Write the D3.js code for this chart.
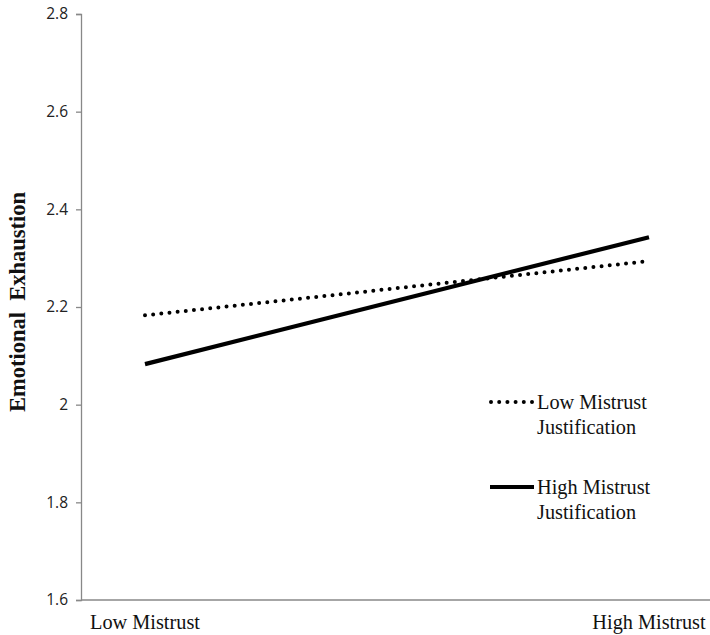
<!DOCTYPE html>
<html><head><meta charset="utf-8">
<script src="https://cdn.jsdelivr.net/npm/d3@7"></script>
<style>body{margin:0;background:#fff}svg{display:block}</style>
</head><body>
<svg id="c" width="710" height="635"></svg>
<script>
const categories = ["Low Mistrust", "High Mistrust"];
const lowJustification = [2.183, 2.294];
const highJustification = [2.083, 2.343];
const yTicks = [1.6, 1.8, 2, 2.2, 2.4, 2.6, 2.8];
const seriesNames = [["Low Mistrust", "Justification"], ["High Mistrust", "Justification"]];

const svg = d3.select("#c");
const x = d3.scalePoint().domain(categories).range([145, 649]);
const y = d3.scaleLinear().domain([1.6, 2.8]).range([600, 14]);

// y axis
const yAxis = svg.append("g").attr("transform", "translate(81,0)")
  .call(d3.axisLeft(y).tickValues(yTicks).tickSize(5).tickPadding(8).tickFormat(d => String(d)));
yAxis.select(".domain").attr("stroke", "#888").attr("stroke-width", 1.3);
yAxis.selectAll(".tick line").attr("stroke", "#888").attr("stroke-width", 1.3);
yAxis.selectAll(".tick text").attr("font-family", "'Open Sans', 'DejaVu Sans', sans-serif")
  .attr("font-size", 15.5).attr("fill", "#222");

// x axis line
svg.append("line").attr("x1", 81).attr("x2", 710).attr("y1", y(1.6)).attr("y2", y(1.6))
  .attr("stroke", "#888").attr("stroke-width", 1.3);
svg.append("g").selectAll("text").data(categories).join("text")
  .attr("x", d => x(d)).attr("y", 629).attr("text-anchor", "middle")
  .attr("font-family", "'Liberation Serif', 'Times New Roman', serif").attr("font-size", 20.3)
  .attr("fill", "#111").text(d => d);

// y label
svg.append("text").attr("transform", "translate(25,302) rotate(-90)")
  .attr("text-anchor", "middle").attr("font-family", "'Liberation Serif', 'Times New Roman', serif")
  .attr("font-weight", "bold").attr("font-size", 22.5).attr("fill", "#111")
  .attr("xml:space", "preserve").style("white-space", "pre")
  .text("Emotional  Exhaustion");

const line = d3.line().x((d, i) => x(categories[i])).y(d => y(d));
svg.append("path").datum(lowJustification).attr("d", line).attr("fill", "none")
  .attr("stroke", "#000").attr("stroke-width", 4).attr("stroke-linecap", "round")
  .attr("stroke-dasharray", "0,8.2");
svg.append("path").datum(highJustification).attr("d", line).attr("fill", "none")
  .attr("stroke", "#000").attr("stroke-width", 4.2).attr("stroke-linecap", "butt");

// legend
const lg = svg.append("g");
const legendY = [402, 487];
lg.append("line").attr("x1", 491).attr("x2", 532).attr("y1", legendY[0]).attr("y2", legendY[0])
  .attr("stroke", "#000").attr("stroke-width", 4).attr("stroke-linecap", "round").attr("stroke-dasharray", "0,8.2");
lg.append("line").attr("x1", 490).attr("x2", 534).attr("y1", legendY[1]).attr("y2", legendY[1])
  .attr("stroke", "#000").attr("stroke-width", 4.2);
seriesNames.forEach((lines, i) => {
  const t = lg.append("text").attr("x", 537).attr("y", legendY[i] + 7)
    .attr("font-family", "'Liberation Serif', 'Times New Roman', serif").attr("font-size", 20.3).attr("fill", "#111");
  lines.forEach((s, j) => t.append("tspan").attr("x", 537).attr("dy", j ? 24.5 : 0).text(s));
});
</script>
</body></html>
